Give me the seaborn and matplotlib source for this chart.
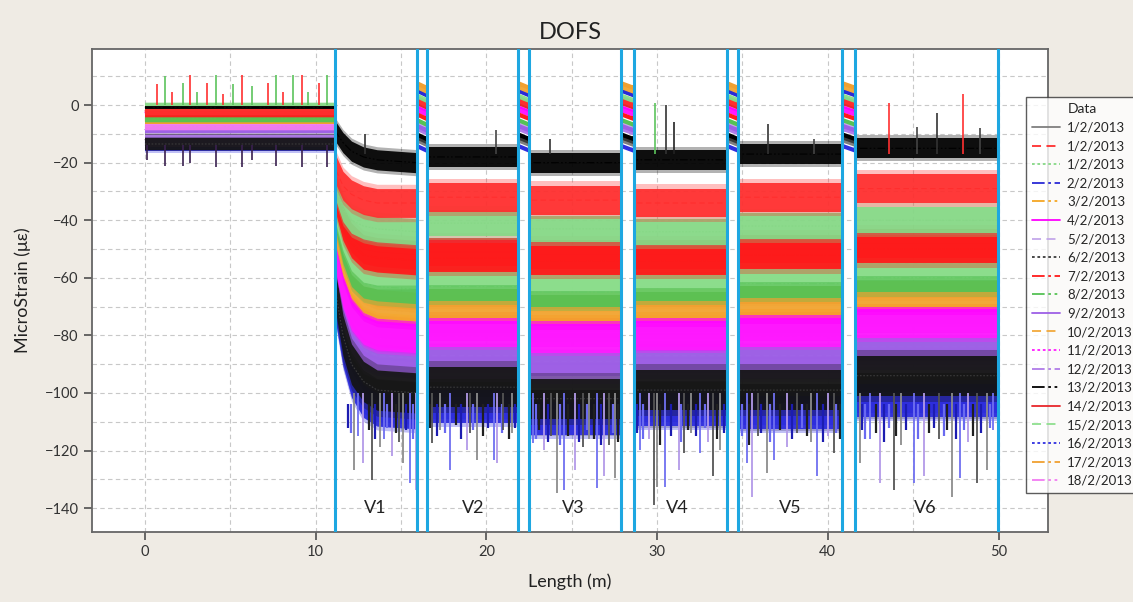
import numpy as np
import pandas as pd
import matplotlib
matplotlib.use("Agg")
import matplotlib.pyplot as plt
from matplotlib.lines import Line2D
from matplotlib.ticker import MultipleLocator
import seaborn as sns

sns.set_theme(style="ticks")
plt.rcParams["font.family"] = ["Lato", "DejaVu Sans"]

# ------------------------------------------------------------------
# data
# ------------------------------------------------------------------
DATES = ["1/2/2013", "1/2/2013", "1/2/2013", "2/2/2013", "3/2/2013",
         "4/2/2013", "5/2/2013", "6/2/2013", "7/2/2013", "8/2/2013",
         "9/2/2013", "10/2/2013", "11/2/2013", "12/2/2013", "13/2/2013",
         "14/2/2013", "15/2/2013", "16/2/2013", "17/2/2013", "18/2/2013"]

# reference section 0 - 11.15 m
REF_X = [0.0, 11.15]
REF_LEVEL = [-12, -2.5, -0.5, -13, -5.5, -2.5, -8, -13.5, -3, -4.5,
             -8.5, -5, -3, -12.5, -0.8, -2, -1, -14, -5.5, -7.5]
REF_HALF = [2, 1.1, 1.1, 2, 0.9, 1.1, 1.2, 2, 1.1, 1.2,
            1.2, 0.9, 1.1, 2, 0.5, 1.1, 1.1, 2, 0.9, 1.2]

# V1 (settling curve after the reference section)
V1_X = [11.15, 11.6, 12.1, 12.8, 13.6, 15.94]
V1_LEVEL = [
    [-66, -82, -92, -99, -102, -103],
    [-22, -28, -31, -33, -34, -34],
    [-28, -36, -40, -42, -43, -44],
    [-68, -84, -95, -102, -105, -106],
    [-45, -56, -64, -69, -71, -72],
    [-52, -64, -72, -77, -79, -80],
    [-56, -70, -79, -85, -87, -88],
    [-64, -80, -90, -96, -99, -100],
    [-32, -42, -48, -52, -53, -54],
    [-38, -50, -58, -62, -63, -64],
    [-57, -71, -80, -86, -88, -89],
    [-44, -54, -62, -67, -69, -70],
    [-53, -66, -74, -79, -81, -82],
    [-59, -73, -82, -88, -90, -91],
    [-9, -13, -16, -18, -19, -20],
    [-30, -40, -46, -50, -51, -52],
    [-36, -46, -53, -57, -58, -58],
    [-70, -86, -97, -104, -107, -108],
    [-42, -52, -60, -65, -67, -68],
    [-50, -62, -70, -75, -77, -78],
]

# sections V2..V6 and the calibration loops between them
ZONE_SPANS = [(16.51, 21.87), (22.52, 27.91), (28.63, 34.10),
              (34.75, 40.86), (41.62, 49.96)]
GAP_SPANS = [(15.94, 16.51), (21.87, 22.52), (27.91, 28.63),
             (34.10, 34.75), (40.86, 41.62)]
ZONE_LEVEL = [
    [-101, -106, -103, -104, -100],
    [-32, -33, -34, -32, -29],
    [-41, -43, -44, -42, -40],
    [-104, -108, -105, -106, -102],
    [-71, -72, -71, -70, -67],
    [-77, -79, -79, -77, -74],
    [-87, -89, -87, -87, -84],
    [-98, -102, -99, -99, -94],
    [-53, -54, -54, -52, -50],
    [-63, -65, -63, -62, -60],
    [-88, -90, -88, -88, -85],
    [-69, -70, -69, -68, -66],
    [-80, -82, -81, -80, -77],
    [-91, -93, -91, -91, -88],
    [-18, -20, -19, -17, -15],
    [-51, -52, -52, -50, -48],
    [-58, -60, -59, -57, -55],
    [-106, -110, -107, -108, -104],
    [-67, -68, -67, -66, -64],
    [-75, -77, -76, -75, -72],
]
TEST_HALF = [7, 5, 4.5, 5, 3, 5, 4, 7, 5, 5,
             4, 3, 4, 4, 3.5, 5, 4.5, 4.5, 3, 4]
GAP_LEVEL = [-13, 0.7, 1.7, 4.2, 6.2, -1.7, -7, -12, -4, -6,
             -8, 5.5, -2.5, -9, -11, 0, 2.5, -15, 6.8, -1]

# spikes
REF_SPIKE_X = [0.68, 1.17, 1.56, 2.21, 2.64, 3.07, 3.65, 4.16, 4.59, 5.18,
               5.67, 6.29, 7.21, 7.68, 8.11, 8.69, 9.18, 9.57, 10.2, 10.69]
REF_SPIKE_TOP = [7.5, 10.0, 4.6, 7.7, 10.4, 4.6, 7.7, 10.4, 4.0, 7.5,
                 10.4, 6.8, 7.7, 10.4, 4.6, 10.4, 10.4, 4.6, 7.7, 10.4]
REF_DIP_X = [0.1, 1.17, 2.21, 2.64, 4.16, 5.67, 6.29, 7.68, 9.18, 10.69]
REF_DIP_BOT = [-19, -21, -21, -20, -21.5, -21.5, -19, -21, -21.5, -21.5]

TEST_DIP_X = [12.27, 12.5, 12.80, 13.32, 13.77, 14.0, 14.46, 14.9, 15.14,
              15.53, 15.88, 16.8, 17.3, 17.88, 18.85, 19.05, 19.44, 20.42,
              20.6, 21.0, 21.5, 22.76, 23.35, 23.8, 24.13, 24.52, 25.2,
              25.69, 26.0, 26.48, 26.87, 27.2, 27.55, 29.0, 29.5, 29.8,
              30.0, 30.48, 31.26, 31.55, 32.0, 32.5, 33.0, 33.3, 33.7,
              35.27, 35.56, 35.9, 36.44, 36.83, 37.6, 38.2, 39.0, 39.37,
              40.0, 40.35, 41.91, 42.5, 43.08, 43.86, 44.3, 45.04, 45.63,
              46.5, 47.29, 47.77, 48.2, 48.75, 49.34, 49.7]
TEST_DIP_BOT = [-126.7, -115, -124.3, -130.2, -118.6, -116, -122, -117,
                -124.4, -131.4, -133.7, -117.5, -113, -126.7, -119.8, -114,
                -123.3, -123.3, -124.4, -113, -114, -117.5, -119.8, -115,
                -134.8, -133.7, -126.7, -118.6, -116, -133, -129, -118,
                -129.6, -119.8, -116, -138.9, -132.5, -132.5, -126.7, -121,
                -114, -121, -117, -129, -119.8, -124.4, -136, -115, -127.9,
                -123.3, -118.6, -114, -117, -129, -115, -121, -124.4, -116,
                -131.4, -133.7, -118, -131.4, -129, -116, -136, -129.6, -117,
                -131.4, -126.7, -113]
# shorter dark-blue fringe below the bottom band
FRINGE_X = [11.9, 12.1, 13.1, 13.5, 14.2, 14.7, 15.3, 15.7, 16.7, 17.1,
            17.6, 18.2, 18.5, 19.2, 19.8, 20.1, 20.9, 21.3, 21.7, 22.9,
            23.1, 23.6, 24.3, 24.8, 25.4, 25.9, 26.3, 26.7, 27.4, 27.7,
            28.8, 29.2, 30.2, 30.8, 31.4, 31.8, 32.3, 32.8, 33.5, 33.9,
            35.0, 35.4, 36.1, 36.6, 37.2, 37.9, 38.5, 38.8, 39.7, 40.5,
            40.7, 42.0, 42.2, 42.8, 43.3, 43.6, 44.0, 44.6, 45.3, 45.9,
            46.2, 46.8, 47.0, 47.5, 48.0, 48.5, 49.0, 49.5]
FRINGE_BOT = [-112, -114, -113, -116, -112, -114, -113, -116, -112, -115,
              -114, -111, -116, -113, -115, -112, -114, -116, -112, -116,
              -113, -117, -118, -115, -117, -113, -116, -118, -114, -117,
              -114, -116, -118, -115, -117, -113, -115, -112, -116, -114,
              -115, -118, -114, -117, -113, -116, -112, -115, -117, -114,
              -116, -113, -116, -114, -117, -112, -115, -113, -116, -114,
              -112, -115, -113, -116, -113, -115, -114, -112]

TEST_PEAK_X = [12.9, 20.55, 23.7, 29.9, 30.5, 31.0, 36.5, 39.2, 43.6,
               45.2, 46.4, 47.9, 48.9]
TEST_PEAK_TOP = [-10, -8.7, -11.6, 0.6, 0, -5.8, -6.4, -11.6, 0.6,
                 -7.5, -2.9, 4, -8.1]

BLUE_X = [11.15, 15.94, 16.51, 21.87, 22.52, 27.91, 28.63, 34.10, 34.75,
          40.86, 41.62, 49.96]
ZONE_NAMES = ["V1", "V2", "V3", "V4", "V5", "V6"]
ZONE_NAME_X = [13.5, 19.2, 25.1, 31.2, 37.8, 45.7]

# ------------------------------------------------------------------
# styles
# ------------------------------------------------------------------
COLORS = ["#7f7f7f", "#ff2e2e", "#86d886", "#2a2ad6", "#f5a623",
          "#ff00ff", "#c4a8ea", "#3a3a3a", "#ff1a1a", "#55c255",
          "#9d5fe6", "#f2a93b", "#ff1aff", "#b07ce8", "#000000",
          "#e8262b", "#8fdf8f", "#2f2fe0", "#f0a030", "#f27cf2"]
FILL_COLORS = list(COLORS)
FILL_COLORS[7] = "#141414"
FILL_COLORS[0] = "#505050"
FILL_COLORS[3] = "#1c1cb0"
FILL_COLORS[6] = "#b080e0"
DASH_CYCLE = ["", (5, 3), (1.5, 1.5), (7, 2, 1.5, 2), (7, 2, 1.5, 2, 1.5, 2)]
DRAW_ORDER = [0, 3, 17, 13, 6, 10, 7, 19, 5, 12, 4, 11, 18, 9, 16, 15, 8, 2, 1, 14]

n = len(DATES)
keys = [f"s{i:02d}" for i in range(n)]
palette = dict(zip(keys, COLORS))
dashes = {k: DASH_CYCLE[i % 5] for i, k in enumerate(keys)}
rank = {s: r for r, s in enumerate(DRAW_ORDER)}

# long table of centre-line profiles
rows = []
for i in range(n):
    pts = [(REF_X[0], REF_LEVEL[i]), (REF_X[1], REF_LEVEL[i])]
    pts += list(zip(V1_X, V1_LEVEL[i]))
    for (g0, g1), (z0, z1), lvl in zip(GAP_SPANS, ZONE_SPANS, ZONE_LEVEL[i]):
        pts += [(g0, GAP_LEVEL[i]), (g1, GAP_LEVEL[i]), (z0, lvl), (z1, lvl)]
    for k, (x, y) in enumerate(pts):
        rows.append({"series": keys[i], "x": x, "y": y, "k": k})
df = pd.DataFrame(rows)

# ------------------------------------------------------------------
# figure
# ------------------------------------------------------------------
fig = plt.figure(figsize=(11.33, 6.02), dpi=100, facecolor="#EFEBE4")
ax = fig.add_axes([0.0812, 0.1163, 0.8438, 0.8023])
ax.set_facecolor("white")

for i in DRAW_ORDER:
    z = 2 + rank[i] * 0.01
    c = FILL_COLORS[i]
    segs = [(REF_X, [REF_LEVEL[i]] * 2, REF_HALF[i]),
            (V1_X, V1_LEVEL[i], TEST_HALF[i])]
    for (z0, z1), lvl in zip(ZONE_SPANS, ZONE_LEVEL[i]):
        segs.append(([z0, z1], [lvl, lvl], TEST_HALF[i]))
    for xs, ys, h in segs:
        ys = np.asarray(ys, dtype=float)
        ax.fill_between(xs, ys - 1.3 * h, ys + 1.3 * h, color=c, alpha=0.3,
                        linewidth=0, zorder=z)
        ax.fill_between(xs, ys - h, ys + h, color=c, alpha=0.92,
                        linewidth=0, zorder=z)
    for g0, g1 in GAP_SPANS:
        ax.plot([g0, g1], [GAP_LEVEL[i] + 0.8, GAP_LEVEL[i] - 0.8],
                color=COLORS[i], lw=3, solid_capstyle="butt", zorder=z)

sns.lineplot(data=df, x="x", y="y", hue="series", style="series",
             palette=palette, dashes=dashes, estimator=None, sort=False,
             units="series", linewidth=0.8, legend=False, ax=ax)
for line, i in zip(ax.get_lines()[-n:], range(n)):
    line.set_zorder(2.005 + rank[i] * 0.01)

# spikes
ax.vlines(REF_SPIKE_X, 0, REF_SPIKE_TOP, colors=["#ff3030", "#5cc45c"],
          linewidth=1.2, zorder=3)
ax.vlines(REF_DIP_X, -14, REF_DIP_BOT, colors="#3a2050", linewidth=1.2, zorder=3)
ax.vlines(FRINGE_X, -104, FRINGE_BOT, colors=["#1c1cb0", "#6a6af0", "#202020"],
          linewidth=1.6, zorder=2.45)
ax.vlines(TEST_DIP_X, -100, TEST_DIP_BOT,
          colors=["#8c8c8c", "#7070f0", "#b39ae8", "#555555"],
          linewidth=1.3, zorder=2.5)
ax.vlines(TEST_PEAK_X, -17, TEST_PEAK_TOP,
          colors=["#333333", "#444444", "#333333", "#5cc45c", "#333333",
                  "#222222", "#333333", "#444444", "#ff3030", "#444444",
                  "#333333", "#ff3030", "#444444"],
          linewidth=1.2, zorder=3)

# section boundaries
for x in BLUE_X:
    ax.axvline(x, color="#1ea7e1", linewidth=2.2, zorder=10)
for name, x in zip(ZONE_NAMES, ZONE_NAME_X):
    ax.text(x, -140, name, ha="center", va="center", fontsize=13,
            color="#222222", zorder=11)

ax.set_xlim(-3.1, 52.9)
ax.set_ylim(-148.3, 19.5)
ax.xaxis.set_major_locator(MultipleLocator(10))
ax.xaxis.set_minor_locator(MultipleLocator(5))
ax.yaxis.set_major_locator(MultipleLocator(20))
ax.yaxis.set_minor_locator(MultipleLocator(10))
ax.grid(which="both", color="#c8c8c8", linestyle=(0, (4, 3)), linewidth=0.8)
ax.set_axisbelow(True)
ax.tick_params(which="major", direction="out", length=6, color="#555555",
               labelsize=10.5, labelcolor="#333333")
ax.tick_params(which="minor", length=0)
for sp in ax.spines.values():
    sp.set_color("#666666")
    sp.set_linewidth(1.3)

ax.set_title("DOFS", fontsize=17, pad=7, color="#222222")
ax.set_xlabel("Length (m)", fontsize=13, labelpad=10, color="#222222")
ax.set_ylabel("MicroStrain (με)", fontsize=13, labelpad=10, color="#222222")

handles = [Line2D([0], [0], color=COLORS[i], lw=1.3,
                  dashes=DASH_CYCLE[i % 5] if DASH_CYCLE[i % 5] else (None, None))
           for i in range(n)]
leg = ax.legend(handles, DATES, title="Data", loc="upper left",
                bbox_to_anchor=(1026 / 1133, 1 - 97 / 602),
                bbox_transform=fig.transFigure, fontsize=9.5, title_fontsize=10,
                frameon=True, fancybox=False, edgecolor="#333333",
                handlelength=2.1, labelspacing=0.5, borderpad=0.45,
                handletextpad=0.55, borderaxespad=0)
leg.get_frame().set_linewidth(1.0)
leg.set_zorder(20)

fig.savefig("out.png", dpi=100, facecolor=fig.get_facecolor())
